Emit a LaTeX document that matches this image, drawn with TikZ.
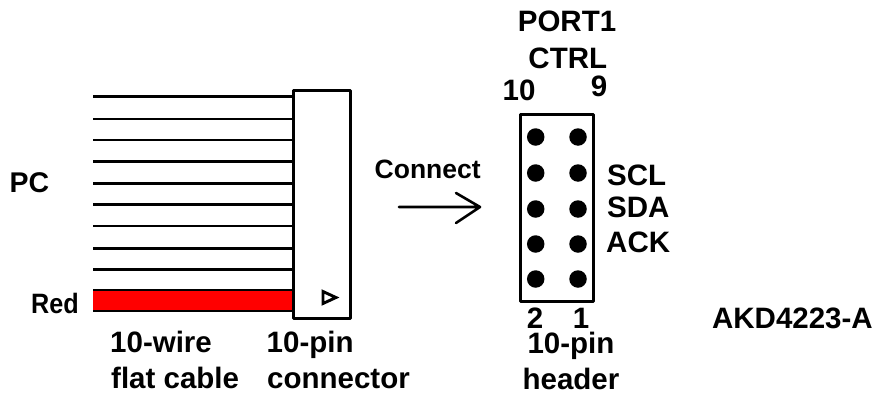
\documentclass[tikz,border=0pt]{standalone}
\usepackage{fontspec}
\setmainfont{Liberation Sans}
\newfontfamily\narrowfont[BoldFeatures={FakeStretch=0.9}]{Liberation Sans}
\tikzset{
  lbl/.style={inner sep=0pt,anchor=base,font=\fontsize{29.5}{32}\selectfont\bfseries,text=black},
  lblw/.style={lbl,anchor=base west},
  gothic/.style={inner sep=0pt,anchor=base west,font=\fontsize{26.5}{30}\selectfont\bfseries,text=black},
  box/.style={draw=black,line width=3pt,rectangle,inner sep=0pt,outer sep=0pt,anchor=north west,line join=round},
  wire/.style={draw=black,line width=2.7pt},
  pin/.style={circle,fill=black,inner sep=0pt,minimum size=17.5pt}
}
\begin{document}
\begin{tikzpicture}[x=1pt,y=-1pt]
\useasboundingbox (0,0) rectangle (878,399);
% red wire
\fill[red] (93,290) rectangle (293,311);
% wires
\node[box,minimum width=57pt,minimum height=228.5pt] (conn) at (293.3,90) {};
\foreach \i/\y in {1/96.7,2/119,3/140,4/161.7,5/183.3,6/204.3,7/226,8/248.3,9/269.3,10/290,11/311}{
  \coordinate (w\i) at (93,\y);
  \draw[wire] (w\i) -- (w\i -| conn.west);
}
% polarity mark
\coordinate (t1) at (323,291.5);
\coordinate (t2) at (336,297.5);
\coordinate (t3) at (323,303.5);
\draw[line width=2.9pt,line join=miter] (t1) -- (t2) -- (t3) -- cycle;
% header
\node[box,minimum width=72.5pt,minimum height=187pt] (hdr) at (520.7,114) {};
\foreach \r/\y in {1/137,2/173,3/209,4/244,5/279}{
  \node[pin] (pl\r) at (535.7,\y) {};
  \node[pin] (pr\r) at (578,\y) {};
}
% arrow
\coordinate (a0) at (399,207);
\coordinate (a1) at (480,207);
\coordinate (a2) at (456,193);
\coordinate (a3) at (456,223);
\draw[line width=2.6pt,line cap=round,line join=round] (a0) -- (a1) (a2) -- (a1) -- (a3);
% text
\node[lbl,font=\fontsize{28.5}{32}\selectfont\bfseries] (pc) at (29.5,192.7) {PC};
\node[gothic,font=\fontsize{28}{30}\narrowfont\bfseries] (red) at (31,313) {Red};
\node[gothic] (cn) at (374.5,178) {Connect};
\node[lbl] (port) at (567,31) {PORT1};
\node[lbl] (ctrl) at (567.8,68) {CTRL};
\node[lbl] (n10) at (519,100) {10};
\node[lbl] (n9) at (599,96) {9};
\node[lblw] (scl) at (607,185) {SCL};
\node[lblw] (sda) at (607,217) {SDA};
\node[lblw] (ack) at (606,252) {ACK};
\node[lbl] (n2) at (535,328) {2};
\node[lbl] (n1) at (581,328) {1};
\node[lbl] (hp) at (571,353) {10-pin};
\node[lbl] (hh) at (571,389) {header};
\node[lbl,anchor=base east] (akd) at (873,328) {AKD4223-A};
\node[lblw] (fw) at (110,352) {10-wire};
\node[lblw] (ff) at (111,388) {flat cable};
\node[lblw] (cp) at (266.5,352) {10-pin};
\node[lblw] (cc) at (267,388) {connector};
\end{tikzpicture}
\end{document}
